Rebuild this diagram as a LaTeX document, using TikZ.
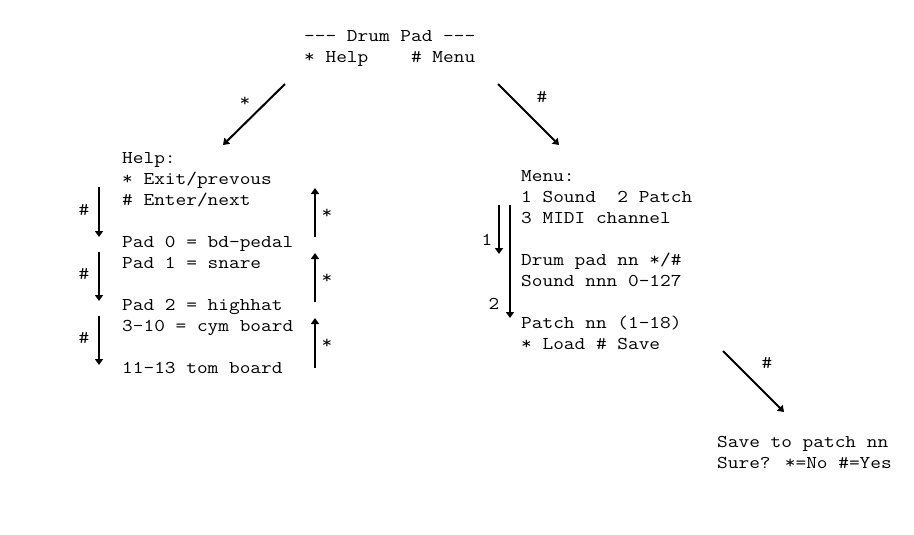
\documentclass[tikz,border=0pt]{standalone}
\usepackage{fontspec}
\newfontfamily\courfont[FakeStretch=1.153]{Latin Modern Mono}
\usetikzlibrary{arrows.meta}
\begin{document}
\begin{tikzpicture}[x=1pt,y=-1pt,
  txt/.style={inner sep=0pt,anchor=base west,align=left,font=\courfont\fontsize{18}{21}\selectfont},
  lbl/.style={inner sep=0pt,anchor=center,font=\courfont\fontsize{18}{21}\selectfont},
  arr/.style={line width=2pt,-{Triangle[width=8pt,length=6pt]}}]
\useasboundingbox (0,0) rectangle (914,535);
\node[txt] (title) at (304,63) {-{}-{}- Drum Pad -{}-{}-\\* Help~~~~\# Menu};
\node[txt] (help) at (122,373) {Help:\\* Exit/prevous\\\# Enter/next\\[21pt]Pad 0 = bd-pedal\\Pad 1 = snare\\[21pt]Pad 2 = highhat\\3-10 = cym board\\[21pt]11-13 tom board};
\node[txt] (menu) at (521,349) {Menu:\\1 Sound~~2 Patch\\3 MIDI channel\\[21pt]Drum pad nn */\#\\Sound nnn 0-127\\[21pt]Patch nn (1-18)\\* Load \# Save};
\node[txt] (save) at (717,468) {Save to patch nn\\Sure? *=No \#=Yes};
% diagonal arrows
\coordinate (a1s) at (285,84); \coordinate (a1e) at (223,145);
\coordinate (a2s) at (498,84); \coordinate (a2e) at (559,145);
\coordinate (a3s) at (723,351); \coordinate (a3e) at (784,412);
\draw[arr] (a1s) -- (a1e);
\draw[arr] (a2s) -- (a2e);
\draw[arr] (a3s) -- (a3e);
\node[lbl] (l1) at (245,102) {*};
\node[lbl] (l2) at (542,97) {\#};
\node[lbl] (l3) at (767,363) {\#};
% help down arrows
\coordinate (d1s) at (99,187); \coordinate (d1e) at (99,237);
\coordinate (d2s) at (99,252); \coordinate (d2e) at (99,301);
\coordinate (d3s) at (99,316); \coordinate (d3e) at (99,365);
\draw[arr] (d1s) -- (d1e);
\draw[arr] (d2s) -- (d2e);
\draw[arr] (d3s) -- (d3e);
\node[lbl] (h1) at (84,210) {\#};
\node[lbl] (h2) at (84,274) {\#};
\node[lbl] (h3) at (84,338) {\#};
% help up arrows
\coordinate (u1s) at (315,237); \coordinate (u1e) at (315,188);
\coordinate (u2s) at (315,302); \coordinate (u2e) at (315,253);
\coordinate (u3s) at (315,368); \coordinate (u3e) at (315,318);
\draw[arr] (u1s) -- (u1e);
\draw[arr] (u2s) -- (u2e);
\draw[arr] (u3s) -- (u3e);
\node[lbl] (s1) at (327,214) {*};
\node[lbl] (s2) at (327,279) {*};
\node[lbl] (s3) at (327,344) {*};
% menu arrows
\coordinate (m1s) at (499,205); \coordinate (m1e) at (499,254);
\coordinate (m2s) at (510,205); \coordinate (m2e) at (510,318);
\draw[arr] (m1s) -- (m1e);
\draw[arr] (m2s) -- (m2e);
\node[lbl] (n1) at (487,240) {1};
\node[lbl] (n2) at (494,304) {2};
\end{tikzpicture}
\end{document}
